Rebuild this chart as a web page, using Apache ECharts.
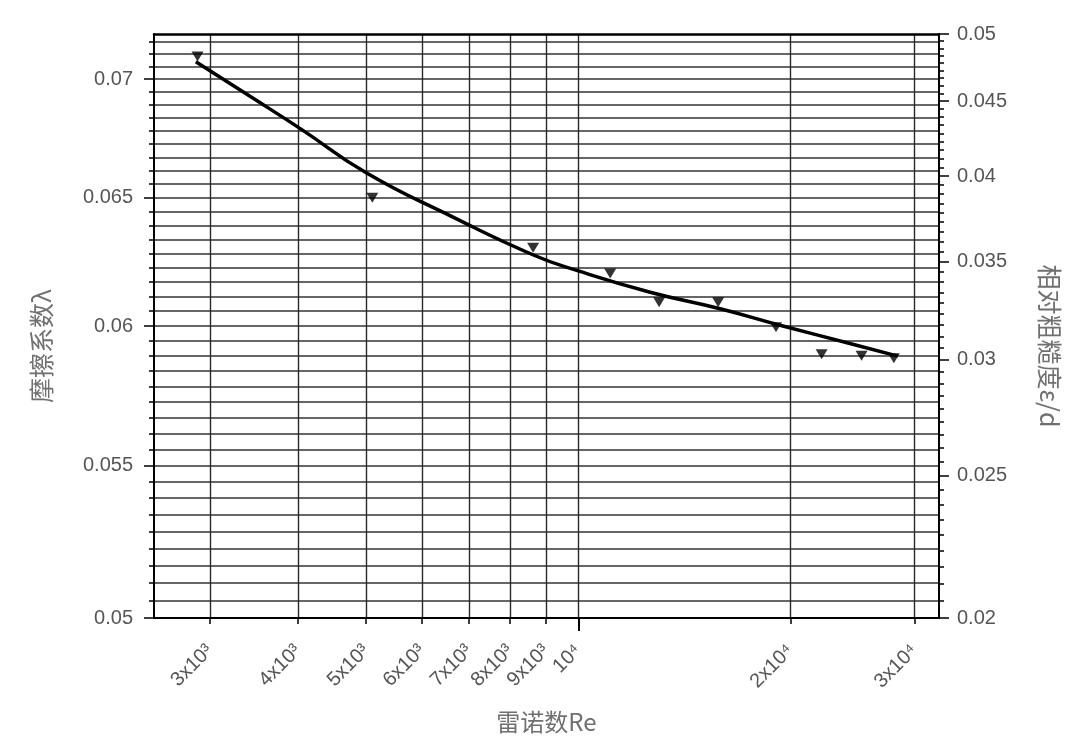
<!DOCTYPE html>
<html>
<head>
<meta charset="utf-8">
<script src="https://cdn.jsdelivr.net/npm/echarts@6/dist/echarts.min.js"></script>
<style>
html,body{margin:0;padding:0;background:#fff;}
#chart{width:1086px;height:755px;}
</style>
</head>
<body>
<div id="chart"></div>
<script>
// measured points: Reynolds number and friction factor
const pointRe = [2882, 5102, 8628, 11100, 13023, 15793, 19080, 22147, 25234, 28043];
const pointLambda = [0.0710, 0.0650, 0.0630, 0.0620, 0.0609, 0.0609, 0.05995, 0.05895, 0.0589, 0.0588];
// fitted curve
const curveRe = [2866, 3430, 4037, 5008, 6586, 8636, 10000, 12648, 15897, 19331, 24290, 28412];
const curveLambda = [0.07076, 0.06923, 0.06786, 0.06601, 0.06427, 0.06272, 0.06210, 0.06128, 0.06065, 0.06003, 0.05935, 0.05888];
// axis ticks
const xTicks = [3000, 4000, 5000, 6000, 7000, 8000, 9000, 10000, 20000, 30000];
const xTickLabels = ['3x10³', '4x10³', '5x10³', '6x10³', '7x10³', '8x10³', '9x10³', '10⁴', '2x10⁴', '3x10⁴'];
const leftTicks = [0.05, 0.055, 0.06, 0.065, 0.07];
const leftTickLabels = ['0.05', '0.055', '0.06', '0.065', '0.07'];
const rightTicks = [0.02, 0.025, 0.03, 0.035, 0.04, 0.045, 0.05];
const rightTickLabels = ['0.02', '0.025', '0.03', '0.035', '0.04', '0.045', '0.05'];
const xName = '雷诺数Re';
const leftName = '摩擦系数λ';
const rightName = '相对粗糙度ε/d';

function subdivide(majors, n, lo, hi) {
  const out = [];
  const step = majors[1] - majors[0];
  for (let m = majors[0] - step; m <= majors[majors.length - 1] + step; m += step) {
    for (let k = 0; k < n; k++) {
      const v = +(m + step * k / n).toFixed(7);
      if (v >= lo - 1e-9 && v <= hi + 1e-9) out.push(v);
    }
  }
  return out;
}
const leftMinor = subdivide(leftTicks, 9, 0.05, 0.072);
const rightMinor = subdivide(rightTicks, 9, 0.02, 0.05);

function lookup(vals, labels) {
  return function (v) {
    for (let i = 0; i < vals.length; i++) {
      if (Math.abs(vals[i] - v) / vals[i] < 1e-6) return labels[i];
    }
    return '';
  };
}

const labelColor = '#555';
const nameColor = '#707070';
const chart = echarts.init(document.getElementById('chart'), null, {renderer: 'canvas'});
const grid = {left: 154, top: 34, right: 147, bottom: 137};

const option = {
  animation: false,
  backgroundColor: '#fff',
  grid: grid,
  xAxis: [
    {
      type: 'log', min: 2500, max: 32500, position: 'bottom',
      name: xName, nameLocation: 'middle', nameGap: 92,
      nameTextStyle: {fontFamily: 'Noto Sans CJK SC', fontSize: 24, color: nameColor},
      axisLine: {show: true, lineStyle: {color: '#000', width: 2}},
      axisTick: {show: true, customValues: xTicks, length: 6, lineStyle: {color: '#000', width: 1.5}},
      axisLabel: {show: true, customValues: xTicks, rotate: 45, margin: 30,
        formatter: lookup(xTicks, xTickLabels),
        fontFamily: 'Liberation Sans', fontSize: 20, color: labelColor},
      splitLine: {show: true, lineStyle: {color: '#2a2a2a', width: 1.4}},
      minorTick: {show: false}, minorSplitLine: {show: false}
    },
    {
      type: 'log', min: 2500, max: 32500, position: 'top',
      axisLine: {show: true, lineStyle: {color: '#000', width: 2.5}},
      axisTick: {show: false}, axisLabel: {show: false}, splitLine: {show: false}
    },
    {
      type: 'log', min: 2500, max: 32500, position: 'bottom',
      axisLine: {show: false},
      axisTick: {show: true, customValues: [10000], length: 13, lineStyle: {color: '#000', width: 2}},
      axisLabel: {show: false}, splitLine: {show: false}
    }
  ],
  yAxis: [
    {
      type: 'log', min: 0.05, max: 0.072, position: 'left',
      name: leftName, nameLocation: 'middle', nameGap: 100, nameRotate: 90,
      nameTextStyle: {fontFamily: 'Noto Sans CJK SC', fontSize: 25, color: nameColor, padding: [0, 40, 0, 0]},
      axisLine: {show: true, lineStyle: {color: '#000', width: 2}},
      axisTick: {show: true, customValues: leftTicks, length: 10, lineStyle: {color: '#000', width: 1.5}},
      axisLabel: {show: true, customValues: leftTicks, margin: 21,
        formatter: lookup(leftTicks, leftTickLabels),
        fontFamily: 'Liberation Sans', fontSize: 20, color: labelColor},
      splitLine: {show: false}
    },
    {
      type: 'log', min: 0.05, max: 0.072, position: 'left',
      axisLine: {show: false},
      axisTick: {show: true, customValues: leftMinor, length: 5, lineStyle: {color: '#000', width: 1.5}},
      axisLabel: {show: false},
      splitLine: {show: true, lineStyle: {color: '#333', width: 1.6}}
    },
    {
      type: 'log', min: 0.02, max: 0.05, position: 'right',
      name: rightName, nameLocation: 'middle', nameGap: 98, nameRotate: -90,
      nameTextStyle: {fontFamily: 'Noto Sans CJK SC', fontSize: 25, color: nameColor, padding: [0, 0, 0, 40]},
      axisLine: {show: true, lineStyle: {color: '#000', width: 2}},
      axisTick: {show: true, customValues: rightTicks, length: 10, lineStyle: {color: '#000', width: 1.5}},
      axisLabel: {show: true, customValues: rightTicks, margin: 18,
        formatter: lookup(rightTicks, rightTickLabels),
        fontFamily: 'Liberation Sans', fontSize: 20, color: labelColor},
      splitLine: {show: false}
    },
    {
      type: 'log', min: 0.02, max: 0.05, position: 'right',
      axisLine: {show: false},
      axisTick: {show: true, customValues: rightMinor, length: 5, lineStyle: {color: '#000', width: 1.5}},
      axisLabel: {show: false}, splitLine: {show: false}
    }
  ],
  series: [
    {
      type: 'line', xAxisIndex: 0, yAxisIndex: 0,
      data: curveRe.map((r, i) => [r, curveLambda[i]]),
      smooth: true, showSymbol: false, symbol: 'none',
      lineStyle: {color: '#000', width: 3.5}, z: 3
    },
    {
      type: 'scatter', xAxisIndex: 0, yAxisIndex: 0,
      data: pointRe.map((r, i) => [r, pointLambda[i]]),
      symbol: 'triangle', symbolRotate: 180, symbolSize: [12, 10],
      itemStyle: {color: '#000'}, z: 4
    }
  ]
};
chart.setOption(option);
</script>
</body>
</html>
